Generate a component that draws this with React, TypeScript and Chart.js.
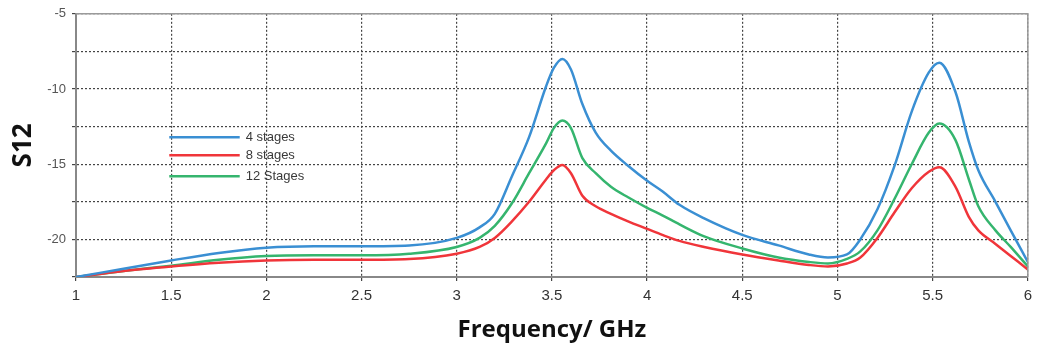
import React, { useEffect, useRef } from "react";
import { Chart, registerables } from "chart.js";

Chart.register(...registerables);

const freq = [1.0, 1.25, 1.5, 1.75, 2.0, 2.25, 2.5, 2.75, 3.0, 3.12, 3.2, 3.29, 3.38, 3.47, 3.51, 3.555, 3.6, 3.66, 3.73, 3.81, 3.9, 4.0, 4.08, 4.17, 4.3, 4.5, 4.69, 4.85, 4.95, 5.05, 5.12, 5.21, 5.3, 5.39, 5.48, 5.535, 5.62, 5.69, 5.74, 5.83, 5.91, 6.0];

const stages4 = [-22.5, -21.95, -21.4, -20.9, -20.55, -20.45, -20.45, -20.4, -19.9, -19.2, -18.3, -15.8, -13.2, -9.8, -8.6, -8.0, -8.7, -11.0, -12.9, -14.1, -15.1, -16.1, -16.8, -17.7, -18.6, -19.7, -20.4, -21.0, -21.2, -21.0, -20.0, -18.0, -15.1, -11.5, -8.9, -8.25, -10.2, -13.5, -15.4, -17.5, -19.4, -21.5];

const stages8 = [-22.5, -22.1, -21.8, -21.55, -21.4, -21.35, -21.35, -21.3, -20.95, -20.5, -19.9, -18.8, -17.5, -16.0, -15.4, -15.05, -15.6, -17.1, -17.8, -18.3, -18.8, -19.3, -19.7, -20.1, -20.5, -21.0, -21.4, -21.7, -21.8, -21.6, -21.2, -19.9, -18.2, -16.6, -15.5, -15.2, -16.5, -18.5, -19.4, -20.3, -21.1, -22.0];

const stages12 = [-22.5, -22.1, -21.75, -21.35, -21.1, -21.05, -21.05, -20.95, -20.5, -19.9, -19.1, -17.6, -15.6, -13.6, -12.6, -12.1, -12.6, -14.6, -15.6, -16.5, -17.2, -17.9, -18.4, -19.0, -19.8, -20.6, -21.2, -21.5, -21.6, -21.3, -20.8, -19.4, -17.3, -15.0, -12.9, -12.3, -13.4, -16.0, -17.8, -19.4, -20.5, -21.8];

const seriesLabels = ["4 stages", "8 stages", "12 Stages"];
const seriesColors = ["#3a8fd3", "#f0353a", "#35b56e"];
const xTitle = "Frequency/ GHz";
const yTitle = "S12";

const legendPlugin = {
  id: "innerLegend",
  afterDatasetsDraw(chart: any) {
    const ctx = chart.ctx;
    const xs = chart.scales.x;
    const ys = chart.scales.y;
    const area = chart.chartArea;
    ctx.save();
    ctx.strokeStyle = "#9a9a9a";
    ctx.lineWidth = 1.5;
    ctx.beginPath();
    ctx.moveTo(area.left, area.top);
    ctx.lineTo(area.right, area.top);
    ctx.lineTo(area.right, area.bottom);
    ctx.stroke();
    const x0 = xs.getPixelForValue(1.49);
    const x1 = xs.getPixelForValue(1.86);
    const rows = [-13.2, -14.4, -15.8];
    chart.data.datasets.forEach((ds: any, i: number) => {
      const y = ys.getPixelForValue(rows[i]);
      ctx.strokeStyle = ds.borderColor;
      ctx.lineWidth = 2.5;
      ctx.beginPath();
      ctx.moveTo(x0, y);
      ctx.lineTo(x1, y);
      ctx.stroke();
      ctx.fillStyle = "#3a3a3a";
      ctx.font = "13px 'Liberation Sans', Arial, sans-serif";
      ctx.textBaseline = "middle";
      ctx.textAlign = "left";
      ctx.fillText(ds.label, x1 + 6, y);
    });
    ctx.restore();
  },
};

export default function App() {
  const ref = useRef<HTMLCanvasElement | null>(null);
  useEffect(() => {
    if (!ref.current) return;
    const mk = (vals: number[]) => freq.map((f, i) => ({ x: f, y: vals[i] }));
    const chart = new Chart(ref.current, {
      type: "line",
      data: {
        datasets: [stages4, stages8, stages12].map((v, i) => ({
          label: seriesLabels[i],
          data: mk(v),
          borderColor: seriesColors[i],
          backgroundColor: seriesColors[i],
          borderWidth: 2.5,
          pointRadius: 0,
          cubicInterpolationMode: "monotone" as const,
          fill: false,
        })),
      },
      options: {
        animation: false,
        responsive: false,
        maintainAspectRatio: false,
        layout: { padding: { left: 0, top: 8, right: 6, bottom: 0 } },
        plugins: { legend: { display: false }, tooltip: { enabled: false } },
        scales: {
          x: {
            type: "linear",
            min: 1,
            max: 6,
            afterFit: (s: any) => { s.height = 74; },
            ticks: {
              stepSize: 0.5,
              padding: 6,
              color: "#333",
              font: { family: "'Liberation Sans Narrow', 'Liberation Sans', sans-serif", size: 15 },
              callback: (v: any) => String(v),
            },
            grid: { color: "#444", lineWidth: 1.2, drawTicks: true, tickLength: 4 },
            border: { color: "#888", width: 2, dash: [2, 2] },
            title: {
              display: true,
              text: xTitle,
              color: "#111",
              font: { family: "'Open Sans', sans-serif", size: 24, weight: "bold" },
              padding: { top: 0, bottom: 6 },
            },
          },
          y: {
            type: "linear",
            min: -22.5,
            max: -5,
            afterFit: (s: any) => { s.width = 76; },
            ticks: {
              stepSize: 2.5,
              padding: 6,
              color: "#555",
              font: { family: "'Liberation Sans', sans-serif", size: 13 },
              callback: (v: any) => (Number(v) % 5 === 0 ? String(v) : ""),
            },
            grid: { color: "#444", lineWidth: 1.2, drawTicks: true, tickLength: 4 },
            border: { color: "#888", width: 2, dash: [2, 2] },
            title: {
              display: true,
              text: yTitle,
              color: "#111",
              font: { family: "'Open Sans', sans-serif", size: 26, weight: "bold" },
              padding: { top: 8, bottom: 0 },
            },
          },
        },
      },
      plugins: [legendPlugin],
    });
    return () => chart.destroy();
  }, []);
  return (
    <div style={{ position: "fixed", left: 0, top: 0, width: 1038, height: 351, background: "#fff" }}>
      <canvas ref={ref} width={1038} height={351} style={{ width: 1038, height: 351 }} />
    </div>
  );
}
